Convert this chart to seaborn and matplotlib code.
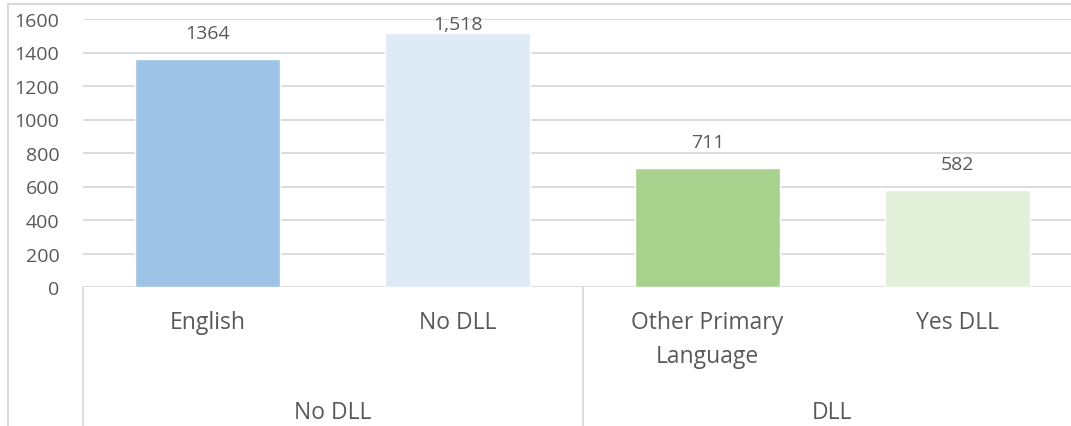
import pandas as pd
import matplotlib.pyplot as plt
import seaborn as sns

# data
categories = ["English", "No DLL", "Other Primary\nLanguage", "Yes DLL"]
groups = ["No DLL", "No DLL", "DLL", "DLL"]
values = [1364, 1518, 711, 582]
value_labels = ["1364", "1,518", "711", "582"]
colors = ["#9DC3E6", "#DEEBF7", "#A9D18E", "#E2F0D9"]
yticks = [0, 200, 400, 600, 800, 1000, 1200, 1400, 1600]

df = pd.DataFrame({"category": categories, "group": groups, "value": values})

sns.set_style("white")
plt.rcParams['font.family'] = ['Open Sans', 'DejaVu Sans']
text_col = "#595959"
grid_col = "#D9D9D9"

fig = plt.figure(figsize=(10.71, 4.27), dpi=100)
# plot area runs a bit past the right edge, as in the source picture
ax = fig.add_axes([83 / 1071, (427 - 288) / 427, 999 / 1071, 268 / 427])

sns.barplot(data=df, x="category", y="value", hue="category", palette=colors,
            width=0.58, legend=False, saturation=1, ax=ax, zorder=3)

ax.set_ylim(0, 1600)
ax.set_xlim(-0.5, len(categories) - 0.5)
ax.set_yticks(yticks)
ax.set_yticklabels([str(t) for t in yticks], fontsize=14, color=text_col)
ax.yaxis.grid(True, color=grid_col, linewidth=1.3, zorder=0)
ax.set_axisbelow(True)
for s in ax.spines.values():
    s.set_visible(False)
ax.tick_params(axis="y", length=0, pad=17)
ax.tick_params(axis="x", length=0)
ax.set_xticks([])
ax.set_xlabel("")
ax.set_ylabel("")

# value labels above the bars, kept inside the chart near the top
for i, (v, lab) in enumerate(zip(values, value_labels)):
    ax.text(i, min(v + 152, 1570), lab, ha="center", va="center",
            fontsize=14, color=text_col, clip_on=False)

# category labels and group labels under the axis
trans = ax.get_xaxis_transform()
for i, c in enumerate(categories):
    ax.text(i, -0.085, c, transform=trans, ha="center", va="top",
            fontsize=16.5, color=text_col, linespacing=1.55)

group_names = []
for g in groups:
    if g not in group_names:
        group_names.append(g)
for gi, g in enumerate(group_names):
    idx = [i for i, x in enumerate(groups) if x == g]
    mid = (idx[0] + idx[-1]) / 2
    ax.text(mid, -0.466, g, transform=trans, ha="center", va="center",
            fontsize=16.5, color=text_col)
    # vertical divider at the left of each group
    ax.plot([idx[0] - 0.5, idx[0] - 0.5], [0, -0.6], transform=trans,
            color=grid_col, linewidth=1.3, clip_on=False)

# outer chart frame (left and top edges visible)
fig.add_artist(plt.Line2D([8 / 1071, 8 / 1071], [0, 1 - 5 / 427],
                          color=grid_col, linewidth=1.5))
fig.add_artist(plt.Line2D([8 / 1071, 1], [1 - 5 / 427, 1 - 5 / 427],
                          color=grid_col, linewidth=1.5))

fig.savefig("out.png", dpi=100)
